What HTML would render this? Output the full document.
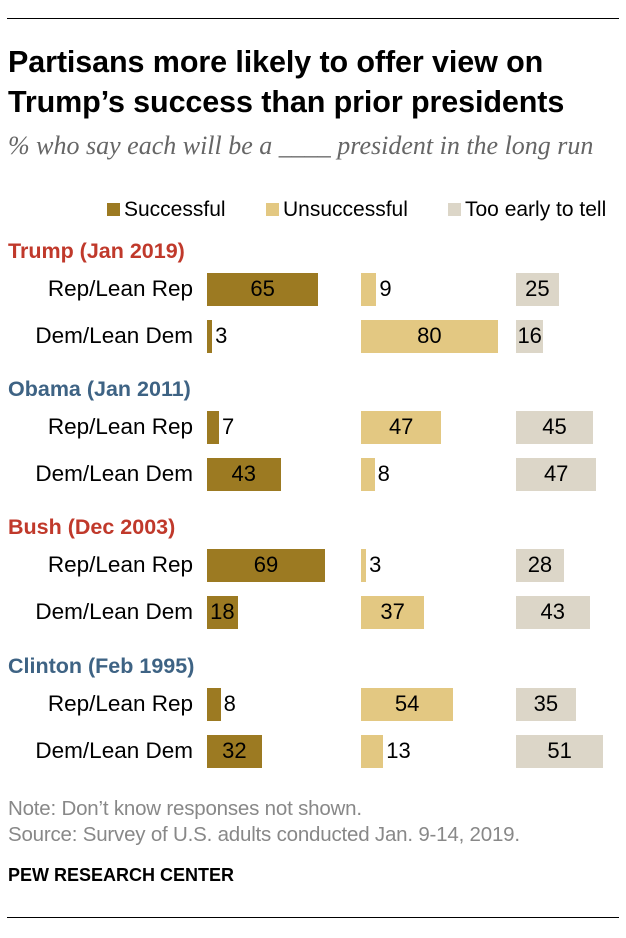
<!DOCTYPE html>
<html><head><meta charset="utf-8"><style>
body{margin:0;background:#fff;font-family:"Liberation Sans",sans-serif;}
#c{position:relative;width:626px;height:938px;overflow:hidden}
.a{position:absolute;white-space:nowrap}
</style></head><body>
<div id="c">
<div class="a" style="left:7px;top:18px;width:612px;height:1px;background:#000"></div>
<div class="a" style="left:8px;top:42px;font-size:30.5px;font-weight:bold;line-height:40px;color:#000;letter-spacing:-0.1px">Partisans more likely to offer view on<br>Trump’s success than prior presidents</div>
<div class="a" style="left:8px;top:131px;font-family:'Liberation Serif',serif;font-style:italic;font-size:26px;color:#666">% who say each will be a ____ president in the long run</div>
<div class="a" style="left:107px;top:198px;font-size:21px;color:#000"><span style="display:inline-block;width:13px;height:13px;background:#9c7a22;margin-right:4px"></span>Successful</div>
<div class="a" style="left:266px;top:198px;font-size:21px;color:#000"><span style="display:inline-block;width:13px;height:13px;background:#e3c882;margin-right:4px"></span>Unsuccessful</div>
<div class="a" style="left:448px;top:198px;font-size:21px;color:#000"><span style="display:inline-block;width:13px;height:13px;background:#dcd6c8;margin-right:4px"></span>Too early to tell</div>
<div class="a" style="left:8px;top:797px;font-size:20.5px;color:#888;letter-spacing:-0.2px">Note: Don’t know responses not shown.</div>
<div class="a" style="left:8px;top:823px;font-size:20.5px;color:#888;letter-spacing:-0.2px">Source: Survey of U.S. adults conducted Jan. 9-14, 2019.</div>
<div class="a" style="left:8px;top:865px;font-size:18px;font-weight:bold;color:#000">PEW RESEARCH CENTER</div>
<div class="a" style="left:7px;top:917px;width:612px;height:1px;background:#000"></div>
</div>
<script>
const groups=["Trump (Jan 2019)","Obama (Jan 2011)","Bush (Dec 2003)","Clinton (Feb 1995)"];
const groupColors=["#c0392b","#3e6384","#c0392b","#3e6384"];
const rowLabels=["Rep/Lean Rep","Dem/Lean Dem"];
const successful=[65,3,7,43,69,18,8,32];
const unsuccessful=[9,80,47,8,3,37,54,13];
const tooEarly=[25,16,45,47,28,43,35,51];
const series=[successful,unsuccessful,tooEarly];
const seriesNames=["successful","unsuccessful","too-early"];
const colors=["#9c7a22","#e3c882","#dcd6c8"];
const starts=[207,361,516];
const k=1.71;
const groupTop=[240,378,516,655];
const c=document.getElementById('c');
function mk(css,txt){const d=document.createElement('div');d.className='a';d.style.cssText=css;if(txt!==undefined)d.textContent=txt;c.appendChild(d);return d;}
groups.forEach((g,gi)=>{
  const h=mk(`left:8px;top:${groupTop[gi]-1}px;font-size:21.5px;font-weight:bold;color:${groupColors[gi]}`,g);
  
  
  rowLabels.forEach((r,ri)=>{
    const i=gi*2+ri;
    const y=groupTop[gi]+33+ri*47;
    const l=mk(`right:${626-193}px;top:${y+3}px;font-size:22.5px;color:#000`,r);
    
    
    series.forEach((s,si)=>{
      const v=s[i];const w=v*k;
      const b=mk(`left:${starts[si]}px;top:${y}px;width:${w}px;height:33px;background:${colors[si]}`);
      
      
      const inside=w>26;
      const t=mk(inside?`left:${starts[si]}px;width:${w}px;text-align:center;top:${y+3}px;font-size:22px;color:#000`:`left:${starts[si]+w+3}px;top:${y+3}px;font-size:22px;color:#000`,String(v));
      
      
    });
  });
});
</script>
</body></html>
